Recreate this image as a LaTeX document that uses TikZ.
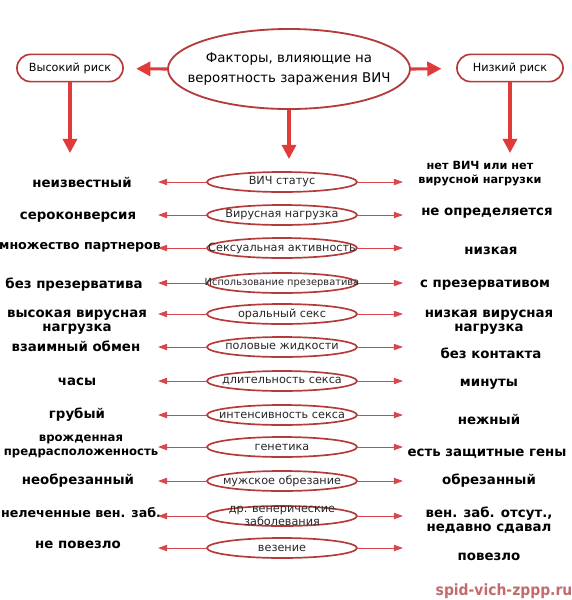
\documentclass[tikz,border=0pt]{standalone}
\usepackage{fontspec}
\setmainfont{DejaVu Sans}
\newfontfamily\markfont{DejaVu Sans Condensed}
\usepackage{xcolor}
\usetikzlibrary{shapes.geometric,arrows.meta}
\definecolor{arrowred}{HTML}{E03A3A}
\definecolor{rimred}{HTML}{B53A3A}
\definecolor{thinred}{HTML}{D9464B}
\definecolor{markred}{HTML}{C56A6C}
\tikzset{main node/.style={ellipse,draw=rimred,line width=1.3pt,minimum width=6.05cm,minimum height=2cm,inner sep=0pt}}
\tikzset{main text/.style={inner sep=0pt,align=center,font=\fontsize{9.5}{14}\selectfont}}
\tikzset{risk node/.style={draw=rimred,line width=1.2pt,rounded corners=0.34cm,minimum width=2.65cm,minimum height=0.68cm,inner sep=0pt,font=\fontsize{8}{9.5}\selectfont}}
\tikzset{factor node/.style={ellipse,draw=rimred,line width=1.2pt,minimum width=3.75cm,minimum height=0.5cm,inner sep=0pt}}
\tikzset{factor text/.style={inner sep=0pt,align=center,text=black!85,font=\fontsize{8}{9}\selectfont}}
\tikzset{value node/.style={inner sep=0pt,align=center,font=\fontsize{9.5}{10}\selectfont\bfseries}}
\tikzset{big arrow/.style={arrowred,line width=2.2pt,-{Triangle[length=10pt,width=10pt]}}}
\tikzset{thin arrow/.style={thinred,line width=0.7pt,-{Triangle[length=6.5pt,width=4.5pt]}}}
% one factor row: name, y, factor, high risk x/y/text, low risk x/y/text
\newcommand{\riskrow}[9]{%
  \coordinate (lend#1) at (158,#2);
  \coordinate (rend#1) at (403,#2);
  \node[factor node] (f#1) at (282,#2) {};
  \node[factor text] (t#1) at (f#1) {#3};
  \node[value node] (l#1) at (#4,#5) {#6};
  \node[value node] (r#1) at (#7,#8) {#9};
  \draw[thin arrow] (f#1) -- (lend#1);
  \draw[thin arrow] (f#1) -- (rend#1);
}
\newcommand{\smallbold}{\fontsize{8}{10}\selectfont}
\newcommand{\narrowbold}{\fontsize{9}{10}\selectfont}
\newcommand{\tinybold}{\fontsize{8.3}{12}\selectfont}

\begin{document}
\begin{tikzpicture}[x=0.025cm,y=-0.025cm]
  \useasboundingbox (0,0) rectangle (572,600);
  \node[main node] (main) at (289,69) {};
  \node[main text] (title) at (main) {Факторы, влияющие на\\вероятность заражения ВИЧ};
  \node[risk node] (high) at (70,68) {Высокий риск};
  \node[risk node] (low) at (510,68) {Низкий риск};
  \coordinate (highEnd) at (70,153);
  \coordinate (mainEnd) at (289,159);
  \coordinate (lowEnd) at (510,153);
  \draw[big arrow,shorten >=0.31cm] (main.west) -- (high);
  \draw[big arrow,shorten >=0.37cm] (main.east) -- (low);
  \draw[big arrow] (high) -- (highEnd);
  \draw[big arrow] (main) -- (mainEnd);
  \draw[big arrow] (low) -- (lowEnd);
  % factors with high / low risk values
  \riskrow{1}{182}{ВИЧ статус}{82}{182}{неизвестный}{480}{174}{\smallbold нет ВИЧ или нет\\\smallbold вирусной нагрузки}
  \riskrow{2}{215}{Вирусная нагрузка}{78}{217}{сероконверсия}{487}{213}{не определяется}
  \riskrow{3}{248}{Сексуальная активность}{80}{247}{\narrowbold множество партнеров}{491}{251}{низкая}
  \riskrow{4}{283}{\fontsize{7}{8}\selectfont Использование презерватива}{74}{285}{без презерватива}{485}{285}{с презервативом}
  \riskrow{5}{314}{оральный секс}{77}{322}{высокая вирусная\\нагрузка}{489}{322}{низкая вирусная\\нагрузка}
  \riskrow{6}{347}{половые жидкости}{76}{346}{взаимный обмен}{491}{353}{без контакта}
  \riskrow{7}{381}{длительность секса}{77}{382}{часы}{489}{384}{минуты}
  \riskrow{8}{415}{интенсивность секса}{77}{415}{грубый}{489}{419}{нежный}
  \riskrow{9}{447}{генетика}{81}{446}{\tinybold врожденная\\\tinybold предрасположенность}{487}{454}{есть защитные гены}
  \riskrow{10}{481}{мужское обрезание}{78}{481}{необрезанный}{489}{481}{обрезанный}
  \riskrow{11}{516}{др. венерические\\заболевания}{81}{513}{\narrowbold нелеченные вен. заб.}{489}{520}{вен. заб. отсут.,\\недавно сдавал}
  \riskrow{12}{548}{везение}{78}{545}{не повезло}{489}{557}{повезло}
  \node[text=markred,font=\markfont\bfseries\fontsize{11}{12}\selectfont] (mark) at (504,591) {spid-vich-zppp.ru};
\end{tikzpicture}
\end{document}
